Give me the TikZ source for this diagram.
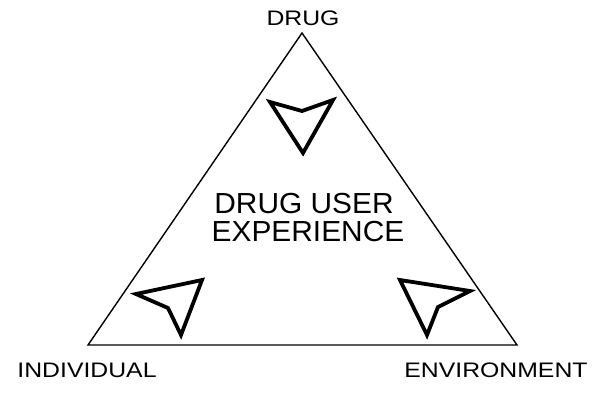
\documentclass[tikz,border=0pt]{standalone}
\usepackage{fontspec}
\setmainfont{Liberation Sans}
\newfontfamily\lblfont[FakeStretch=1.18]{Liberation Sans}
\newfontfamily\ctrfont[FakeStretch=1.03]{Liberation Sans}
\begin{document}
\begin{tikzpicture}[x=1pt,y=-1pt,
  label/.style={font=\lblfont\fontsize{21}{25}\selectfont, inner sep=0pt, anchor=base},
  center/.style={font=\ctrfont\fontsize{29}{29}\selectfont, inner sep=0pt, anchor=base},
  arrowshape/.style={draw=black, line width=3.8pt, line join=miter, fill=white},
  side/.style={draw=black, line width=1.4pt}]
\useasboundingbox (0,0) rectangle (602,400);
\coordinate (top) at (302,33);
\coordinate (left) at (88,345);
\coordinate (right) at (517,345);
\draw[side] (top) -- (left) -- (right) -- cycle;
% arrowheads
\draw[arrowshape] (270,102) -- (302,111) -- (333,100) -- (303,153) -- cycle;
\draw[arrowshape] (136,294) -- (202,280) -- (181,335) -- (168,308) -- cycle;
\draw[arrowshape] (400,280) -- (470,291) -- (438,307) -- (427,335) -- cycle;
% labels
\node[label] (drug) at (303,25) {DRUG};
\node[label] (indiv) at (87,377) {INDIVIDUAL};
\node[label] (env) at (496,377) {ENVIRONMENT};
\node[center] (l1) at (304,213) {DRUG USER};
\node[center] (l2) at (308,241) {EXPERIENCE};
\end{tikzpicture}
\end{document}
